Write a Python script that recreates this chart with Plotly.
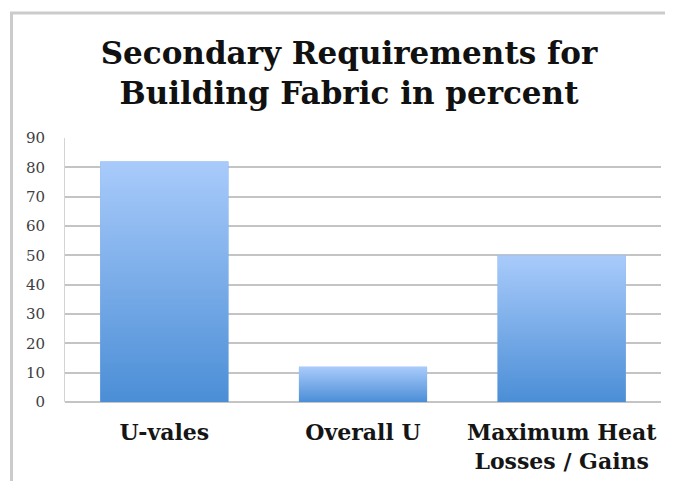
import plotly.graph_objects as go

categories = ["U-vales", "Overall U", "Maximum Heat<br>Losses / Gains"]
values = [82, 12, 50]
y_ticks = [0, 10, 20, 30, 40, 50, 60, 70, 80, 90]

bar_width = 0.645
positions = list(range(len(categories)))

fig = go.Figure()

# base bar trace (data)
fig.add_trace(go.Bar(
    x=positions, y=values, width=bar_width,
    marker=dict(color="#74a8ea", line=dict(width=0)),
    hoverinfo="x+y", showlegend=False,
))

# gradient overlays, derived from the same data
for p, v in zip(positions, values):
    xs = [p - bar_width / 2, p + bar_width / 2, p + bar_width / 2, p - bar_width / 2, p - bar_width / 2]
    ys = [0, 0, v, v, 0]
    fig.add_trace(go.Scatter(
        x=xs, y=ys, mode="lines", fill="toself",
        line=dict(width=0, color="rgba(0,0,0,0)"),
        fillgradient=dict(type="vertical",
                          colorscale=[[0, "#4b8ed6"], [1, "#a9cbfb"]]),
        hoverinfo="skip", showlegend=False,
    ))

W, H = 665, 473
L, R, T, B = 57, 12, 130, 79
PW, PH = W - L - R, H - T - B

fig.update_layout(
    width=W, height=H,
    margin=dict(l=L, r=R, t=T, b=B),
    paper_bgcolor="white", plot_bgcolor="white",
    title=dict(
        text="<b>Secondary Requirements for<br>Building Fabric in percent</b>",
        x=341 / W, xanchor="center", xref="container",
        y=1 - 56 / H, yanchor="middle", yref="container",
        font=dict(family="DejaVu Serif", size=31, color="#111111"),
    ),
    xaxis=dict(
        tickvals=positions, ticktext=["<b>" + c + "</b>" for c in categories],
        range=[-0.5, 2.5], showgrid=False, zeroline=False,
        tickfont=dict(family="DejaVu Serif", size=22, color="#151515"),
        ticks="outside", ticklen=11, tickcolor="rgba(0,0,0,0)",
        showline=False, automargin=False,
    ),
    yaxis=dict(
        range=[0, 90], tickvals=y_ticks, showgrid=True,
        gridcolor="#c4c4c4", gridwidth=2, zeroline=True,
        zerolinecolor="#c4c4c4", zerolinewidth=2,
        showline=True, linecolor="#d4d4d4", linewidth=1,
        tickfont=dict(family="DejaVu Serif", size=15, color="#404040"),
        ticks="outside", ticklen=16, tickcolor="rgba(0,0,0,0)",
        automargin=False,
    ),
    shapes=[
        dict(type="line", xref="paper", yref="paper",
             x0=(2 - L) / PW, x1=1.05, y0=(H - B - 5) / PH, y1=(H - B - 5) / PH,
             line=dict(color="#cbcbcb", width=3)),
        dict(type="line", xref="paper", yref="paper",
             x0=(3.5 - L) / PW, x1=(3.5 - L) / PW, y0=(H - B - 5) / PH, y1=-0.35,
             line=dict(color="#cbcbcb", width=3)),
    ],
)

fig.write_html("out.html")
